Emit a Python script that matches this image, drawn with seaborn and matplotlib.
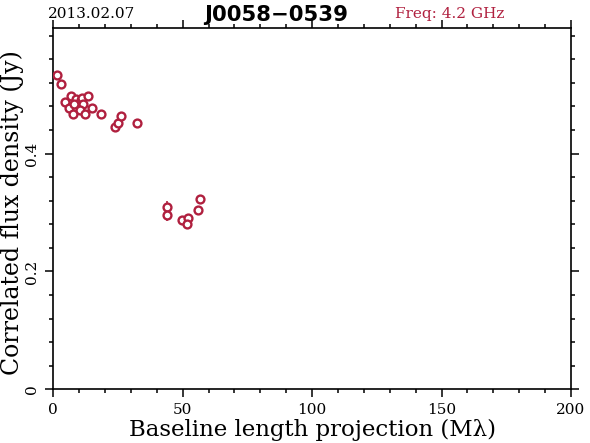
import matplotlib
matplotlib.use("Agg")
import matplotlib.pyplot as plt
import seaborn as sns
import pandas as pd
from matplotlib.ticker import MultipleLocator, FixedLocator

# Data
baseline = [1.6, 3.0, 4.4, 7.0, 8.6, 6.1, 7.5, 7.9, 10.7, 11.1, 13.4, 11.4, 10.3, 12.2,
            14.8, 18.4, 23.9, 25.0, 26.0, 32.5,
            43.8, 43.8, 49.8, 51.9, 51.6, 55.8, 56.7]
flux = [0.533, 0.518, 0.488, 0.498, 0.493, 0.478, 0.467, 0.484, 0.490, 0.494, 0.498, 0.484,
        0.474, 0.467, 0.478, 0.467, 0.445, 0.452, 0.463, 0.452,
        0.309, 0.295, 0.288, 0.290, 0.281, 0.304, 0.323]
flux_err = [0.004] * 20 + [0.010, 0.010, 0.006, 0.008, 0.006, 0.005, 0.006]

date_text = "2013.02.07"
source_name = "J0058\u22120539"
freq_text = "Freq: 4.2 GHz"
x_label = "Baseline length projection (M\u03bb)"
y_label = "Correlated flux density (Jy)"
x_major = [0, 50, 100, 150, 200]
y_major = [0, 0.2, 0.4]
y_major_labels = ["0", "0.2", "0.4"]

df = pd.DataFrame({"baseline": baseline, "flux": flux, "err": flux_err})

sns.set_style("ticks")
plt.rcParams["font.family"] = ["DejaVu Serif", "DejaVu Sans"]
plt.rcParams["mathtext.fontset"] = "dejavuserif"
plt.rcParams["text.color"] = "black"
plt.rcParams["axes.labelcolor"] = "black"
plt.rcParams["xtick.color"] = "black"
plt.rcParams["ytick.color"] = "black"

crimson = "#B0203F"

fig = plt.figure(figsize=(5.9, 4.43), dpi=100)
ax = fig.add_axes([0.0903, 0.1212, 0.8775, 0.8156])

ax.errorbar(df["baseline"], df["flux"], yerr=df["err"], fmt="none",
            ecolor=crimson, elinewidth=1.2, capsize=0, zorder=2)
sns.scatterplot(data=df, x="baseline", y="flux", ax=ax, marker="o", s=32,
                facecolors="white", edgecolor=crimson, linewidth=1.7, zorder=3,
                legend=False)

ax.set_xlim(0, 200)
ax.set_ylim(0, 0.613)

ax.xaxis.set_major_locator(FixedLocator(x_major))
ax.xaxis.set_minor_locator(MultipleLocator(10))
ax.yaxis.set_major_locator(FixedLocator(y_major))
ax.set_yticklabels(y_major_labels, rotation=90, va="center")
ax.yaxis.set_minor_locator(MultipleLocator(0.04))

for side in ["top", "right", "left", "bottom"]:
    ax.spines[side].set_visible(True)
    ax.spines[side].set_linewidth(1.2)
    ax.spines[side].set_color("black")

ax.tick_params(which="both", direction="out", top=True, right=True,
               labeltop=False, labelright=False, color="black", width=1.1)
ax.tick_params(which="major", length=6, labelsize=11, pad=4)
ax.tick_params(which="minor", length=3.2)

ax.set_xlabel(x_label, fontsize=16.5, labelpad=1)
ax.set_ylabel(y_label, fontsize=17)
ax.yaxis.label.set_va("center")
ax.yaxis.set_label_coords(-0.079, 0.49)

fig.text(0.155, 0.968, date_text, fontsize=11, ha="center", va="center")
fig.text(0.468, 0.966, source_name, fontsize=15.3, fontweight="bold",
         ha="center", va="center", family=["DejaVu Sans"])
fig.text(0.763, 0.968, freq_text, fontsize=11, ha="center", va="center",
         color=crimson)

fig.savefig("out.png", dpi=100)
